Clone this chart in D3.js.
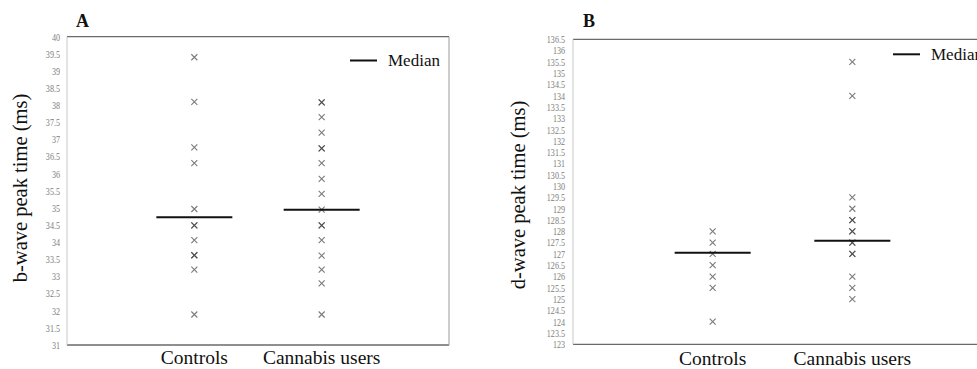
<!DOCTYPE html>
<html>
<head>
<meta charset="utf-8">
<script src="https://cdn.jsdelivr.net/npm/d3@7.9.0/dist/d3.min.js"></script>
<style>
  body { margin: 0; background: #fff; }
  #chart text { font-family: "Liberation Serif", "Times New Roman", Times, serif; }
</style>
</head>
<body>
<svg id="chart" width="977" height="369"></svg>
<script>
// panel A: b-wave peak time (ms)
const groups = ['Controls', 'Cannabis users'];
const bControls = [39.4, 38.1, 36.77, 36.31, 34.97, 34.49, 34.49, 34.06, 33.62, 33.62, 33.2, 31.89];
const bCannabis = [38.08, 38.08, 37.65, 37.2, 36.74, 36.74, 36.31, 35.85, 35.41, 34.95, 34.49, 34.49,
                   34.06, 33.61, 33.2, 32.8, 31.89];
const bMedians = [34.73, 34.95];
const bTicks = d3.range(31, 40.01, 0.5);

// panel B: d-wave peak time (ms)
const dControls = [128, 127.5, 127, 126.5, 126, 125.5, 124];
const dCannabis = [135.5, 134, 129.5, 129, 128.5, 128.5, 128, 128, 127.5, 127.5, 127, 127,
                   126, 125.5, 125];
const dMedians = [127.05, 127.58];
const dTicks = d3.range(123, 136.51, 0.5);

const svg = d3.select('#chart');

function drawPanel(cfg) {
  const g = svg.append('g');
  const { left, right, top, bottom } = cfg.box;

  const x = d3.scalePoint().domain(groups).range([left, right]).padding(1);
  const y = d3.scaleLinear().domain(cfg.domain).range([bottom, top]);

  // frame
  g.append('line').attr('x1', left).attr('x2', right).attr('y1', top).attr('y2', top)
    .attr('stroke', '#6a6a6a').attr('stroke-width', 1.3);
  g.append('line').attr('x1', left).attr('x2', right).attr('y1', bottom).attr('y2', bottom)
    .attr('stroke', '#6a6a6a').attr('stroke-width', 1.3);
  g.append('line').attr('x1', left).attr('x2', left).attr('y1', top).attr('y2', bottom)
    .attr('stroke', '#c8c8c8').attr('stroke-width', 1);
  g.append('line').attr('x1', right).attr('x2', right).attr('y1', top).attr('y2', bottom)
    .attr('stroke', '#9a9a9a').attr('stroke-width', 1);

  // y axis ticks (labels only)
  const sx = 0.77;
  const ax = g.append('g')
    .attr('transform', `translate(${left},0)`)
    .call(d3.axisLeft(y).tickValues(cfg.ticks).tickSize(0)
      .tickFormat(d => d % 1 ? d.toFixed(1) : d3.format('d')(d)));
  ax.select('.domain').remove();
  ax.selectAll('text')
    .attr('font-size', 10.5)
    .attr('fill', '#7d7d7d')
    .attr('x', -cfg.pad / sx)
    .attr('transform', `scale(${sx},1)`);

  // points
  const s = 3;
  [cfg.controls, cfg.cannabis].forEach((vals, i) => {
    const cx = x(groups[i]);
    g.append('g').selectAll('path')
      .data(vals)
      .join('path')
      .attr('d', d => `M${cx - s},${y(d) - s}L${cx + s},${y(d) + s}M${cx - s},${y(d) + s}L${cx + s},${y(d) - s}`)
      .attr('stroke', '#333')
      .attr('stroke-opacity', 0.65)
      .attr('stroke-width', 1.1)
      .attr('fill', 'none');
  });

  // median bars
  g.append('g').selectAll('line')
    .data(cfg.medians)
    .join('line')
    .attr('x1', (d, i) => x(groups[i]) - 38)
    .attr('x2', (d, i) => x(groups[i]) + 38)
    .attr('y1', d => y(d))
    .attr('y2', d => y(d))
    .attr('stroke', '#111')
    .attr('stroke-width', 2);

  // group labels
  g.append('g').selectAll('text')
    .data(groups)
    .join('text')
    .attr('x', d => x(d))
    .attr('y', cfg.labelY)
    .attr('text-anchor', 'middle')
    .attr('font-size', 19.5)
    .attr('fill', '#111')
    .text(d => d);

  // y title
  g.append('text')
    .attr('transform', `translate(${cfg.titleX},${cfg.titleY}) rotate(-90)`)
    .attr('text-anchor', 'middle')
    .attr('font-size', 20.5)
    .attr('fill', '#111')
    .text(cfg.yTitle);

  // panel letter
  g.append('text')
    .attr('x', cfg.letterX).attr('y', 27)
    .attr('font-size', 18).attr('font-weight', 'bold')
    .attr('fill', '#111')
    .text(cfg.letter);

  // legend
  g.append('line')
    .attr('x1', cfg.legend[0]).attr('x2', cfg.legend[0] + 27)
    .attr('y1', cfg.legend[1]).attr('y2', cfg.legend[1])
    .attr('stroke', '#111').attr('stroke-width', 2);
  g.append('text')
    .attr('x', cfg.legend[0] + 38).attr('y', cfg.legend[1] + 5.5)
    .attr('font-size', 17).attr('fill', '#111')
    .text('Median');
}

drawPanel({
  box: { left: 67, right: 449, top: 36.7, bottom: 345 },
  domain: [31, 40], ticks: bTicks, pad: 7,
  controls: bControls, cannabis: bCannabis, medians: bMedians,
  labelY: 364, titleX: 27, titleY: 188, yTitle: 'b-wave peak time (ms)',
  letter: 'A', letterX: 76, legend: [350, 60.5]
});

drawPanel({
  box: { left: 573, right: 992, top: 39.3, bottom: 344.3 },
  domain: [123, 136.5], ticks: dTicks, pad: 8,
  controls: dControls, cannabis: dCannabis, medians: dMedians,
  labelY: 365, titleX: 525, titleY: 195, yTitle: 'd-wave peak time (ms)',
  letter: 'B', letterX: 583, legend: [893, 54.3]
});
</script>
</body>
</html>
